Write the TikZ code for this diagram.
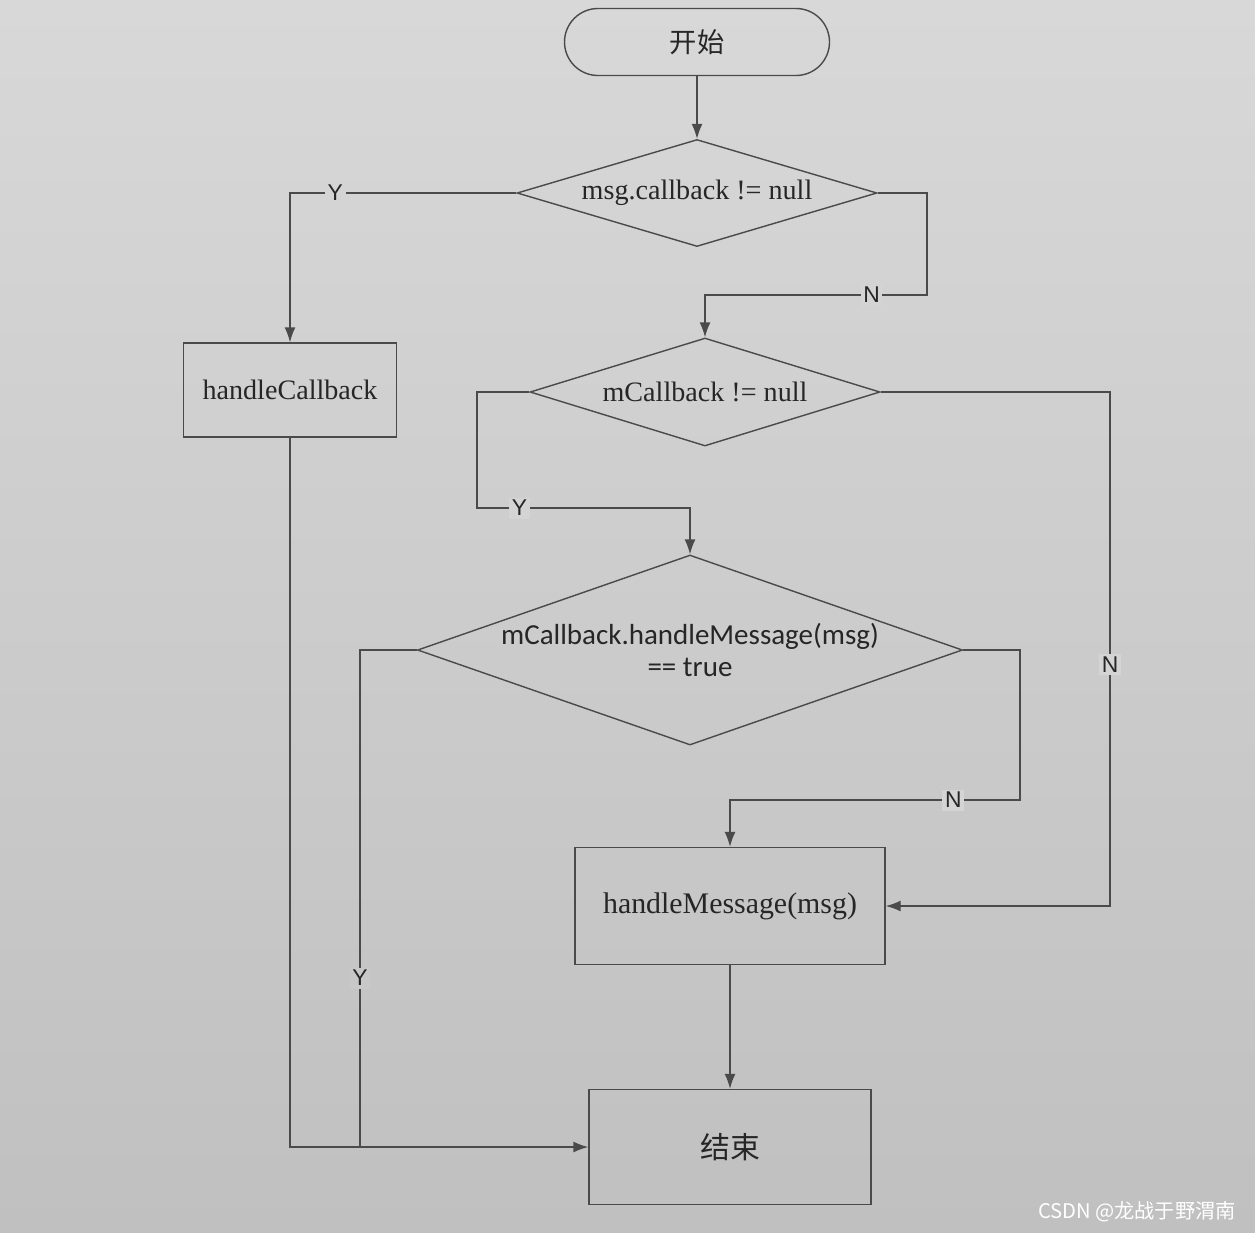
\documentclass[tikz,border=0pt]{standalone}
\usepackage{fontspec}
\setmainfont{Liberation Serif}
\setsansfont{Liberation Sans}
\newfontfamily\cjk{Noto Sans CJK SC}
\newfontfamily\calfont{Carlito}
\usetikzlibrary{shapes.geometric,arrows.meta}
\definecolor{paper}{HTML}{D8D8D8}
\definecolor{paperlow}{HTML}{C0C0C0}
\definecolor{ink}{HTML}{4A4A4A}
\definecolor{txt}{HTML}{262626}

\begin{document}
\begin{tikzpicture}[x=0.2mm,y=-0.2mm,
    line/.style={ink,line width=0.8pt},
    arr/.style={line,-{Latex[length=3mm,width=2.2mm]}},
    term/.style={draw=ink,line width=0.8pt,rounded corners=6.7mm,minimum width=5.3cm,minimum height=1.34cm,text=txt},
    box/.style={draw=ink,line width=0.8pt,text=txt,font=\fontsize{16}{19}\selectfont},
    dec/.style={diamond,draw=ink,line width=0.8pt,inner sep=0pt,text=txt,font=\fontsize{16}{19}\selectfont},
    yn/.style={fill=paper!85!paperlow,inner sep=1.5pt,text=txt,font=\sffamily\fontsize{13}{15}\selectfont}]
    \shade[top color=paper,bottom color=paperlow] (0,0) rectangle (1255,1232);
    % shapes
    \node[term,font=\cjk\fontsize{15.5}{18}\selectfont] (start) at (697,42) {开始};
    \node[dec,minimum width=7.2cm,minimum height=2.14cm,aspect=3.36] (d1) at (697,193) {msg.callback != null};
    \node[box,minimum width=4.26cm,minimum height=1.88cm] (cb) at (290,390) {handleCallback};
    \node[dec,minimum width=7cm,minimum height=2.16cm,aspect=3.24] (d2) at (705,392) {mCallback != null};
    \node[dec,minimum width=10.9cm,minimum height=3.8cm,aspect=2.87,align=center,font=\calfont\fontsize{16.5}{18}\selectfont] (d3) at (690,650) {mCallback.handleMessage(msg)\\== true};
    \node[box,minimum width=6.2cm,minimum height=2.34cm,font=\fontsize{17}{20}\selectfont] (hm) at (730,906) {handleMessage(msg)};
    \node[box,minimum width=5.64cm,minimum height=2.3cm,font=\cjk\fontsize{17}{20}\selectfont] (end) at (730,1147) {结束};
    \node[anchor=east,text=white,font=\cjk\fontsize{11.5}{14}\selectfont] (mark) at (1242,1212) {CSDN @龙战于野渭南};
    % connectors
    \coordinate (n1) at (927,295);
    \coordinate (y1) at (477,508);
    \coordinate (n2) at (1110,392);
    \coordinate (n3) at (1020,800);
    \coordinate (y2) at (360,650);
    \draw[arr] (start) -- (d1);
    \draw[arr] (d1.west) -| node[yn,pos=0.4]{Y} (cb.north);
    \draw[arr] (d1.east) -| (n1) -- node[yn,pos=0.25]{N} (n1 -| d2.north) -- (d2.north);
    \draw[arr] (d2.west) -| (y1) -- node[yn,pos=0.2]{Y} (y1 -| d3.north) -- (d3.north);
    \draw[arr] (d2.east) -- (n2) -- node[yn,pos=0.53]{N} (n2 |- hm.east) -- (hm.east);
    \draw[arr] (d3.east) -| (n3) -- node[yn,pos=0.23]{N} (n3 -| hm.north) -- (hm.north);
    \draw[arr] (cb.south) |- (end.west);
    \draw[line] (d3.west) -- (y2) -- node[yn,pos=0.66,fill=paper!35!paperlow]{Y} (y2 |- end.west);
    \draw[arr] (hm) -- (end);
\end{tikzpicture}
\end{document}
